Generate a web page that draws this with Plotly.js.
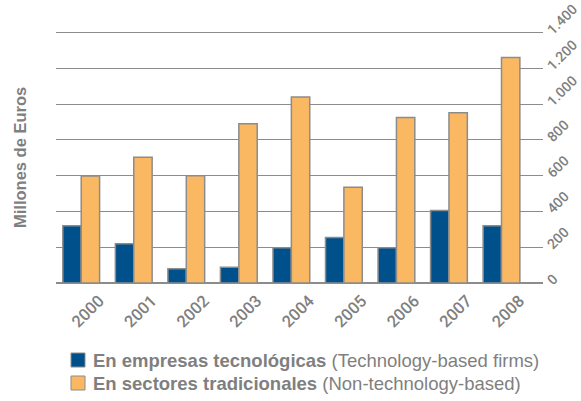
<!DOCTYPE html>
<html>
<head>
<meta charset="utf-8">
<script src="https://cdn.plot.ly/plotly-3.0.1.min.js"></script>
<style>
  html, body { margin: 0; padding: 0; background: #ffffff; }
  #chart { width: 581px; height: 401px; }
</style>
</head>
<body>
<div id="chart"></div>
<script>
// Venture investment by year, millions of euros
const years = ['2000', '2001', '2002', '2003', '2004', '2005', '2006', '2007', '2008'];
const techFirms = [320, 220, 80, 88, 197, 255, 197, 405, 320];
const traditionalSectors = [598, 703, 600, 890, 1040, 535, 925, 952, 1260];

const yTickValues = [0, 200, 400, 600, 800, 1000, 1200, 1400];
const yTickLabels = ['0', '200', '400', '600', '800', '1.000', '1.200', '1.400'];

const seriesNames = [
  '<b>En empresas tecnológicas</b> (Technology-based firms)',
  '<b>En sectores tradicionales</b> (Non-technology-based)'
];
const seriesColors = ['#00508c', '#fbb862'];

const W = 581, H = 401;
const M = { l: 56, r: 38, t: 29, b: 118 };
const grey = '#7f7f7f';
const outline = '#8c8c8c';
const xTickFont = { family: 'Roboto, "DejaVu Sans Condensed", sans-serif', size: 16.5, color: grey, weight: 500 };
const yTickFont = { family: 'Roboto, "DejaVu Sans Condensed", sans-serif', size: 14, color: grey, weight: 500 };
const legendFont = { family: '"Liberation Sans", Arial, sans-serif', size: 18.5, color: grey };

// pixel -> paper helpers for the legend block under the plot
const px = v => (v - M.l) / (W - M.l - M.r);
const py = v => (H - M.b - v) / (H - M.t - M.b);

const traces = [techFirms, traditionalSectors].map((vals, i) => ({
  type: 'bar',
  name: seriesNames[i],
  x: years,
  y: vals,
  marker: { color: seriesColors[i], line: { color: outline, width: 1.5 } },
  hoverinfo: 'x+y'
}));

// hand-built legend: swatch + label per series
const legendRows = [360, 383];
const shapes = legendRows.map((cy, i) => ({
  type: 'rect',
  xref: 'paper', yref: 'paper',
  x0: px(71), x1: px(85),
  y0: py(cy + 7), y1: py(cy - 7),
  fillcolor: seriesColors[i],
  line: { color: outline, width: 1 }
}));
const legendLabels = legendRows.map((cy, i) => ({
  text: seriesNames[i],
  xref: 'paper', yref: 'paper',
  x: px(91), y: py(cy),
  xanchor: 'left', yanchor: 'middle',
  showarrow: false,
  font: legendFont
}));

const layout = {
  width: W,
  height: H,
  margin: Object.assign({ autoexpand: false }, M),
  paper_bgcolor: '#ffffff',
  plot_bgcolor: '#ffffff',
  barmode: 'group',
  bargap: 0.3,
  bargroupgap: 0,
  showlegend: false,
  xaxis: {
    type: 'category',
    range: [-0.48, 8.79],
    automargin: false,
    showgrid: false,
    showline: false,
    zeroline: false,
    ticks: '',
    tickangle: -45,
    tickfont: xTickFont,
    ticklabelshift: 18,
    ticklabelstandoff: 4
  },
  yaxis: {
    side: 'right',
    range: [0, 1420],
    automargin: false,
    tickvals: yTickValues,
    ticktext: yTickLabels,
    tickangle: -45,
    tickfont: yTickFont,
    ticklabeloverflow: 'allow',
    ticklabelstandoff: 4,
    showgrid: true,
    gridcolor: outline,
    gridwidth: 1,
    zeroline: true,
    zerolinecolor: outline,
    zerolinewidth: 2,
    showline: false,
    ticks: ''
  },
  shapes: shapes,
  annotations: legendLabels.concat([
    {
      text: '<b>Millones de Euros</b>',
      xref: 'paper',
      yref: 'paper',
      x: px(20),
      y: py(158),
      xanchor: 'center',
      yanchor: 'middle',
      textangle: -90,
      showarrow: false,
      font: { family: '"Liberation Sans", Arial, sans-serif', size: 16.5, color: grey }
    }
  ])
};

Plotly.newPlot('chart', traces, layout, { displayModeBar: false, staticPlot: true });
</script>
</body>
</html>
